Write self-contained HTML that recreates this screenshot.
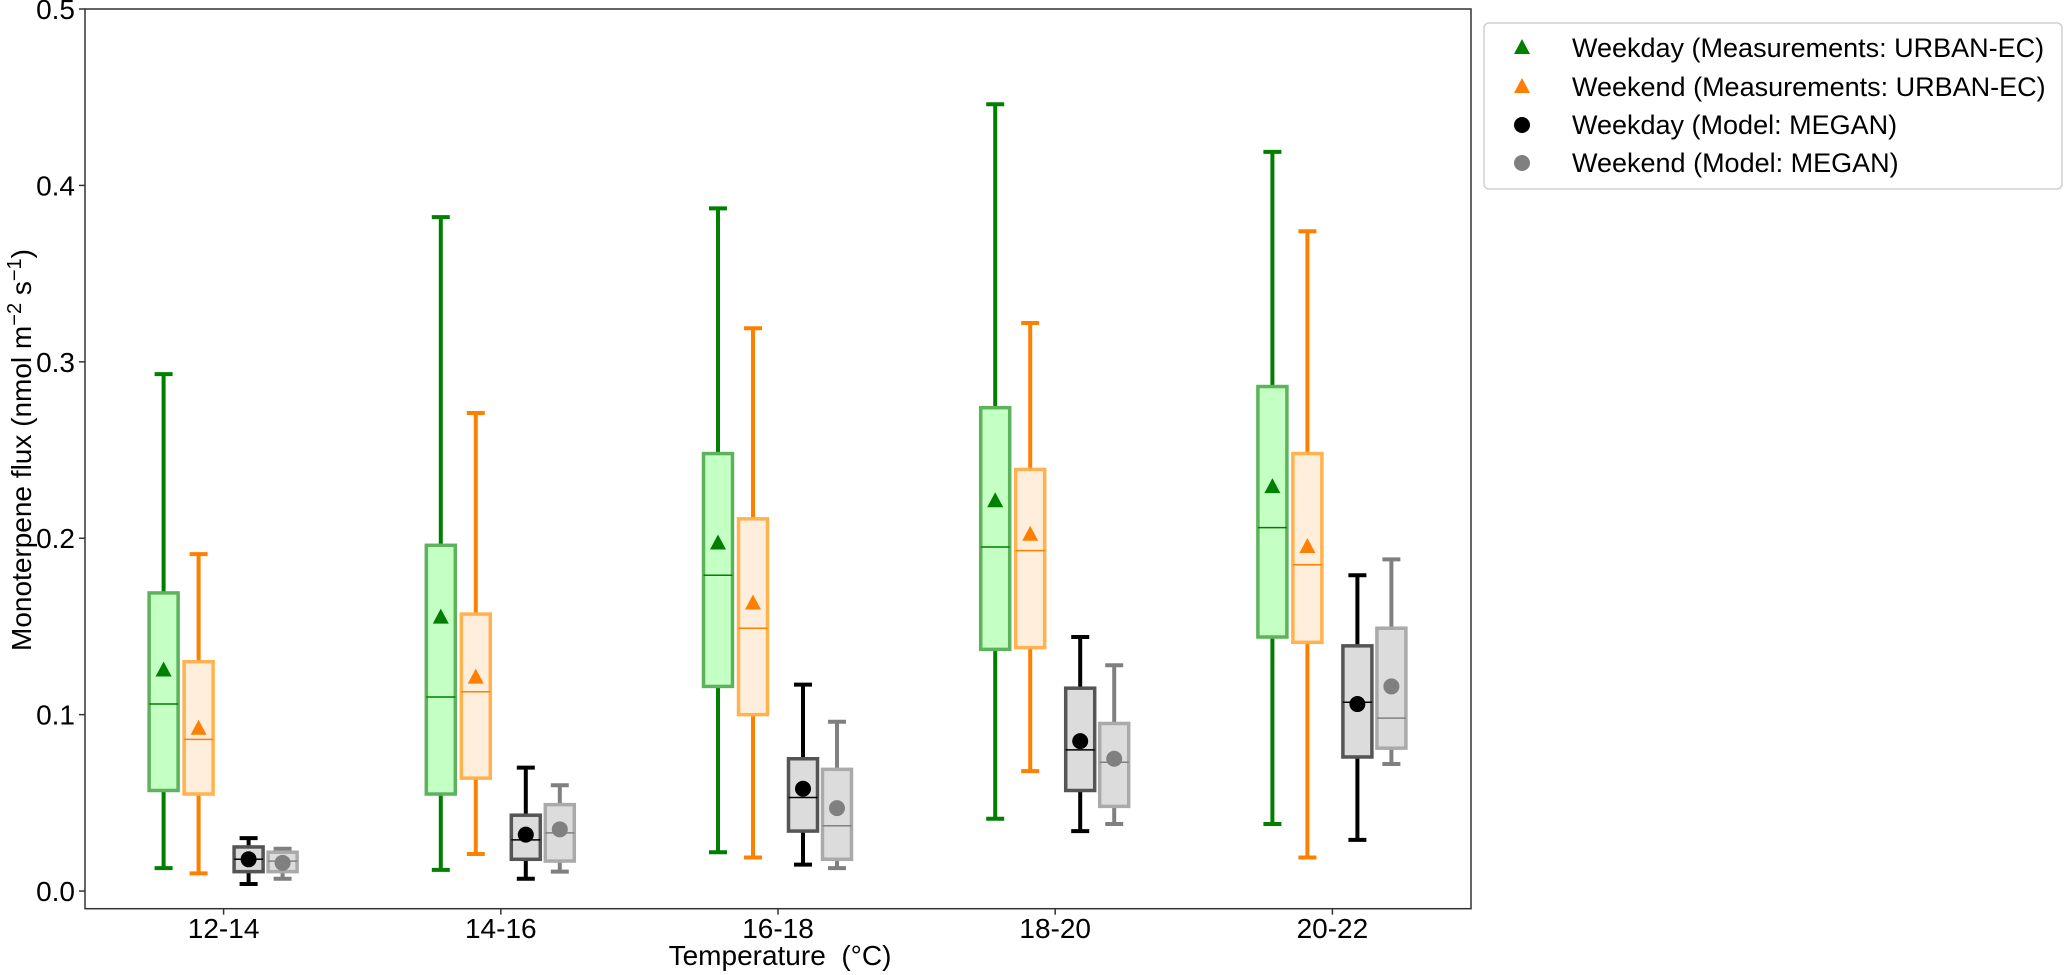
<!DOCTYPE html>
<html><head><meta charset="utf-8"><style>
html,body{margin:0;padding:0;background:#fff;}
svg{display:block;font-family:"Liberation Sans",Arial,sans-serif;}
</style></head><body>
<svg id="chart" width="2067" height="975" viewBox="0 0 2067 975" xmlns="http://www.w3.org/2000/svg"></svg>
<script>
const categories = ["12-14","14-16","16-18","18-20","20-22"];
const yTicks = [0.0,0.1,0.2,0.3,0.4,0.5];
const yTickLabels = ["0.0","0.1","0.2","0.3","0.4","0.5"];
// each entry: [whiskerHigh, q3, median, mean, q1, whiskerLow]
const weekdayMeas = [[0.293,0.169,0.106,0.125,0.057,0.013],[0.382,0.196,0.110,0.155,0.055,0.012],[0.387,0.248,0.179,0.197,0.116,0.022],[0.446,0.274,0.195,0.221,0.137,0.041],[0.419,0.286,0.206,0.229,0.144,0.038]];
const weekendMeas = [[0.191,0.130,0.086,0.092,0.055,0.010],[0.271,0.157,0.113,0.121,0.064,0.021],[0.319,0.211,0.149,0.163,0.100,0.019],[0.322,0.239,0.193,0.202,0.138,0.068],[0.374,0.248,0.185,0.195,0.141,0.019]];
const weekdayModel = [[0.030,0.025,0.018,0.018,0.011,0.004],[0.070,0.043,0.029,0.032,0.018,0.007],[0.117,0.075,0.053,0.058,0.034,0.015],[0.144,0.115,0.080,0.085,0.057,0.034],[0.179,0.139,0.107,0.106,0.076,0.029]];
const weekendModel = [[0.024,0.022,0.017,0.016,0.011,0.007],[0.060,0.049,0.033,0.035,0.017,0.011],[0.096,0.069,0.037,0.047,0.018,0.013],[0.128,0.095,0.073,0.075,0.048,0.038],[0.188,0.149,0.098,0.116,0.081,0.072]];
const legendLabels = ["Weekday (Measurements: URBAN-EC)","Weekend (Measurements: URBAN-EC)","Weekday (Model: MEGAN)","Weekend (Model: MEGAN)"];

const NS="http://www.w3.org/2000/svg";
const svg=document.getElementById('chart');
const L=85,R=1471,T=9,B=908.7;
const yMin=-0.01,yMax=0.5;
function yS(v){return B-(v-yMin)/(yMax-yMin)*(B-T);}
function xS(i){return L+(i+0.5)/categories.length*(R-L);}
function mk(tag,attrs,parent){const e=document.createElementNS(NS,tag);for(const k in attrs)e.setAttribute(k,attrs[k]);(parent||svg).appendChild(e);return e;}

const series=[
 {d:weekdayMeas,off:-60,fill:"#c4ffc4",edge:"#5cb35c",wh:"#007f00",med:"#007f00",marker:"tri",mc:"#007f00",name:"weekday-measurements"},
 {d:weekendMeas,off:-25,fill:"#ffeedc",edge:"#ffb24d",wh:"#ff8000",med:"#ff8000",marker:"tri",mc:"#ff8000",name:"weekend-measurements"},
 {d:weekdayModel,off:25,fill:"#dcdcdc",edge:"#555555",wh:"#000000",med:"#000000",marker:"dot",mc:"#000000",name:"weekday-model"},
 {d:weekendModel,off:59,fill:"#dcdcdc",edge:"#aaaaaa",wh:"#808080",med:"#808080",marker:"dot",mc:"#808080",name:"weekend-model"}
];
const bw=29,cw=18;
function marker(type,cx,cy,color,g){
  if(type==="tri"){return mk('polygon',{points:`${cx},${cy-9} ${cx+8},${cy+6} ${cx-8},${cy+6}`,fill:color},g);}
  return mk('circle',{cx:cx,cy:cy,r:8,fill:color},g);
}
const frame=mk('rect',{x:L,y:T,width:R-L,height:B-T,fill:"none",stroke:"#333",'stroke-width':1.5});

yTicks.forEach((v,i)=>{
  const y=yS(v);
  const t=mk('line',{x1:L-6,x2:L,y1:y,y2:y,stroke:"#333",'stroke-width':1.5});
  
  const tx=mk('text',{x:L-10,y:y+10,'font-size':28,'text-anchor':'end',fill:'#000'});
  tx.textContent=yTickLabels[i];
  
});
categories.forEach((c,i)=>{
  const x=xS(i);
  const t=mk('line',{x1:x,x2:x,y1:B,y2:B+6,stroke:"#333",'stroke-width':1.5});
  
  const tx=mk('text',{x:x,y:938,'font-size':28,'text-anchor':'middle',fill:'#000'});
  tx.textContent=c;
  
});
series.forEach(s=>{
  s.d.forEach((v,i)=>{
    const cx=xS(i)+s.off;
    const g=mk('g',{});
    
    
    const [hi,q3,md,mn,q1,lo]=v;
    mk('line',{x1:cx,x2:cx,y1:yS(hi),y2:yS(q3),stroke:s.wh,'stroke-width':4},g);
    mk('line',{x1:cx,x2:cx,y1:yS(q1),y2:yS(lo),stroke:s.wh,'stroke-width':4},g);
    mk('line',{x1:cx-cw/2,x2:cx+cw/2,y1:yS(hi),y2:yS(hi),stroke:s.wh,'stroke-width':4},g);
    mk('line',{x1:cx-cw/2,x2:cx+cw/2,y1:yS(lo),y2:yS(lo),stroke:s.wh,'stroke-width':4},g);
    mk('rect',{x:cx-bw/2,y:yS(q3),width:bw,height:yS(q1)-yS(q3),fill:s.fill,stroke:s.edge,'stroke-width':3.5},g);
    mk('line',{x1:cx-bw/2,x2:cx+bw/2,y1:yS(md),y2:yS(md),stroke:s.med,'stroke-width':1.5},g);
    marker(s.marker,cx,yS(mn),s.mc,g);
  });
});
const xt=mk('text',{x:780,y:965,'font-size':28,'text-anchor':'middle',fill:'#000'});
xt.setAttribute('xml:space','preserve');
xt.style.whiteSpace='pre';
xt.textContent="Temperature  (°C)";

const yt=mk('text',{x:0,y:0,'font-size':28,'text-anchor':'middle',fill:'#000',transform:'translate(31,450) rotate(-90)'});
yt.innerHTML='Monoterpene flux (nmol m<tspan dy="-10" font-size="20">−2</tspan><tspan dy="10"> s</tspan><tspan dy="-10" font-size="20">−1</tspan><tspan dy="10">)</tspan>';

const lg=mk('g',{});

mk('rect',{x:1484,y:23,width:578,height:166,rx:5,fill:'#fff',stroke:'#d0d0d0','stroke-width':1.5},lg);
const ly=[47,86,124,162];
series.forEach((s,i)=>{
  const e=mk('g',{},lg);
  
  marker(s.marker,1522,ly[i]+1,s.mc,e);
  const t=mk('text',{x:1572,y:ly[i]+10,'font-size':27,fill:'#000'},e);
  t.textContent=legendLabels[i];
});
</script>
</body></html>
